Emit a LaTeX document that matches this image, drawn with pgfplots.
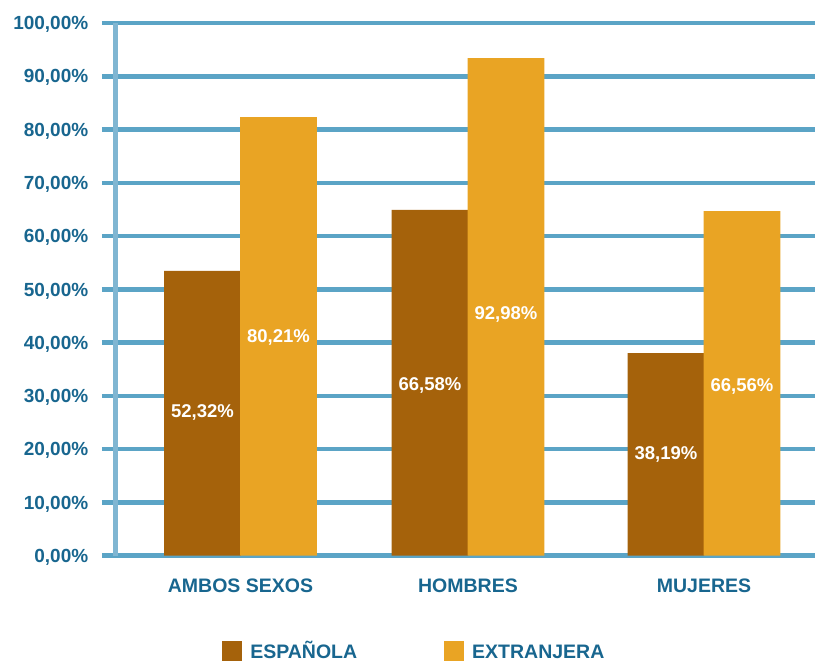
\documentclass[border=0pt]{standalone}
\usepackage{pgfplots}
\pgfplotsset{compat=1.18}
\usepackage{fontspec}
\setmainfont{Liberation Sans}
\definecolor{esp}{HTML}{A5620B}
\definecolor{ext}{HTML}{E9A424}
\definecolor{gridblue}{HTML}{5BA4C6}
\definecolor{axisblue}{HTML}{80B6D2}
\definecolor{txtblue}{HTML}{18668F}
\begin{document}
\begin{tikzpicture}
\path[use as bounding box] (0,0) rectangle (815pt,662pt);
\begin{axis}[
  at={(115.8pt,106.3pt)}, anchor=south west,
  scale only axis, width=699.2pt, height=532.7pt,
  xmin=-0.538, xmax=2.479, ymin=0, ymax=100,
  ybar=0pt, bar width=76.6pt,
  axis x line*=bottom, axis y line*=left,
  x axis line style={gridblue, line width=4.5pt, -},
  y axis line style={axisblue, line width=5pt, -},
  ymajorgrids, grid style={gridblue, line width=4.5pt},
  ytick={0,10,...,100},
  yticklabels={{0,00\%},{10,00\%},{20,00\%},{30,00\%},{40,00\%},{50,00\%},{60,00\%},{70,00\%},{80,00\%},{90,00\%},{100,00\%}},
  tick align=outside, major tick length=14pt,
  ytick style={gridblue, line width=4.5pt},
  xtick style={draw=none},
  xtick={0,0.9815,2},
  xticklabels={AMBOS SEXOS,HOMBRES,MUJERES},
  yticklabel style={text=txtblue, font=\bfseries\fontsize{19}{22}\selectfont, anchor=east, xshift=-10pt, yshift=-1.5pt},
  xticklabel style={text=txtblue, font=\bfseries\fontsize{19.5}{22}\selectfont, yshift=-6pt},
  legend columns=2,
  legend style={at={(0.152,-0.179)}, anchor=west, draw=none, fill=none, inner sep=0pt,
    font=\bfseries\fontsize{19.5}{22}\selectfont, text=txtblue,
    nodes={text height=14pt, text depth=0pt, inner xsep=8pt, inner ysep=0pt},
    /tikz/every even column/.append style={column sep=79pt}},
  legend image code/.code={\fill[#1,draw=none] (0pt,-10pt) rectangle (20pt,10pt);},
  every node near coord/.append style={anchor=center, yshift=-2pt, text=white, font=\bfseries\fontsize{18.5}{22}\selectfont},
]
\addplot[fill=esp, draw=none, bar shift=-38pt] coordinates {(0,53.45) (0.9815,64.9) (2,38.05)};
\addlegendentry{ESPAÑOLA}
\addplot[fill=ext, draw=none, bar shift=38pt] coordinates {(0,82.35) (0.9815,93.4) (2,64.7)};
\addlegendentry{EXTRANJERA}
\addplot[draw=none, fill=none, bar shift=-38pt, forget plot, nodes near coords, point meta=explicit symbolic]
  coordinates {(0,27.2) [52,32\%] (0.9815,32.4) [66,58\%] (2,19.3) [38,19\%]};
\addplot[draw=none, fill=none, bar shift=38pt, forget plot, nodes near coords, point meta=explicit symbolic]
  coordinates {(0,41.4) [80,21\%] (0.9815,45.7) [92,98\%] (2,32.2) [66,56\%]};
\end{axis}
\end{tikzpicture}
\end{document}
